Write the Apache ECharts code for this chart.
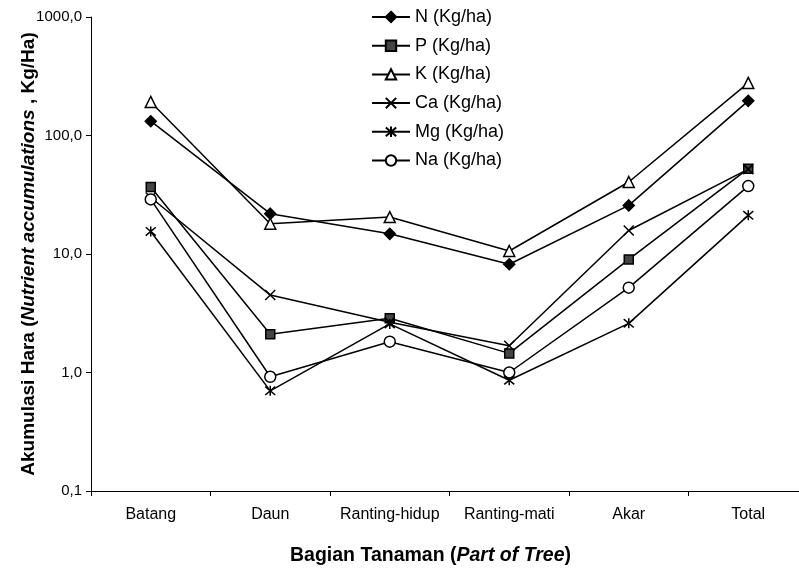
<!DOCTYPE html>
<html>
<head>
<meta charset="utf-8">
<script src="https://cdn.jsdelivr.net/npm/echarts@6/dist/echarts.min.js"></script>
<style>
html,body{margin:0;padding:0;background:#fff;}
#c{width:799px;height:572px;}
</style>
</head>
<body>
<div id="c"></div>
<script>
var categories = ['Batang','Daun','Ranting-hidup','Ranting-mati','Akar','Total'];
var N  = [132, 21.9, 14.8, 8.2, 25.7, 196];
var P  = [36.7, 2.1, 2.87, 1.45, 9.0, 52.5];
var K  = [192, 18.0, 20.5, 10.6, 40.5, 278];
var Ca = [30, 4.5, 2.65, 1.68, 15.8, 52];
var Mg = [15.5, 0.70, 2.57, 0.86, 2.6, 21.2];
var Na = [28.9, 0.92, 1.82, 1.0, 5.2, 37.4];
var yTickLabels = ['0,1','1,0','10,0','100,0','1000,0'];

var FONT = 'Liberation Sans, Arial, sans-serif';
var crossPath = 'path://M0,0L10,10M10,0L0,10';
var starPath = 'path://M0,0L10,10M10,0L0,10M5,-1L5,11';

function mk(name, data, symbol, size, fill){
  return {
    name: name, type: 'line', data: data,
    symbol: symbol, symbolSize: size,
    lineStyle: {color: '#000', width: 1.5},
    itemStyle: {color: fill, borderColor: '#000', borderWidth: 1.5},
    emphasis: {disabled: true},
    animation: false
  };
}

var chart = echarts.init(document.getElementById('c'));
chart.setOption({
  backgroundColor: '#fff',
  animation: false,
  textStyle: {fontFamily: FONT, color: '#000'},
  grid: {left: 91, width: 717, top: 17, bottom: 81, containLabel: false, outerBoundsMode: 'none'},
  legend: {
    orient: 'vertical', left: 366, top: 3,
    itemWidth: 38, itemHeight: 13, itemGap: 10.7,
    textStyle: {fontSize: 18, color: '#000', fontFamily: FONT, lineHeight: 18},
    data: ['N (Kg/ha)','P (Kg/ha)','K (Kg/ha)','Ca (Kg/ha)','Mg (Kg/ha)','Na (Kg/ha)']
  },
  xAxis: {
    type: 'category', data: categories, boundaryGap: true,
    axisLine: {lineStyle: {color: '#000', width: 1}},
    axisTick: {show: true, interval: 0, length: 5, lineStyle: {color: '#000'}},
    axisLabel: {interval: 0, fontSize: 16, color: '#000', margin: 16, fontFamily: FONT},
    name: 'Bagian Tanaman ({i|Part of Tree})',
    nameLocation: 'middle', nameGap: 55,
    nameTextStyle: {fontSize: 19.5, fontWeight: 'bold', color: '#000', fontFamily: FONT,
      padding: [0, 38, 0, 0],
      rich: {i: {fontSize: 19.5, fontWeight: 'bold', fontStyle: 'italic', color: '#000', fontFamily: FONT}}}
  },
  yAxis: {
    type: 'log', logBase: 10, min: 0.1, max: 1000,
    axisLine: {show: true, lineStyle: {color: '#000', width: 1}},
    axisTick: {show: true, length: 5, lineStyle: {color: '#000'}},
    minorTick: {show: false},
    splitLine: {show: false},
    axisLabel: {fontSize: 15, color: '#000', margin: 9, fontFamily: FONT,
      formatter: function(v){ var i = Math.round(Math.log10(v)) + 1; return yTickLabels[i] || ''; }},
    name: 'Akumulasi Hara ({i|Nutrient accumulations} , Kg/Ha)',
    nameLocation: 'middle', nameGap: 53, nameRotate: 90, nameMoveOverlap: false,
    nameTextStyle: {fontSize: 19, fontWeight: 'bold', color: '#000', fontFamily: FONT,
      rich: {i: {fontSize: 19, fontWeight: 'bold', fontStyle: 'italic', color: '#000', fontFamily: FONT}}}
  },
  series: [
    mk('N (Kg/ha)', N, 'diamond', 11, '#000'),
    mk('P (Kg/ha)', P, 'rect', 9, '#444'),
    mk('K (Kg/ha)', K, 'triangle', 11, '#fff'),
    mk('Ca (Kg/ha)', Ca, crossPath, 10, '#000'),
    mk('Mg (Kg/ha)', Mg, starPath, 10, '#000'),
    mk('Na (Kg/ha)', Na, 'circle', 11, '#fff')
  ]
});
</script>
</body>
</html>
